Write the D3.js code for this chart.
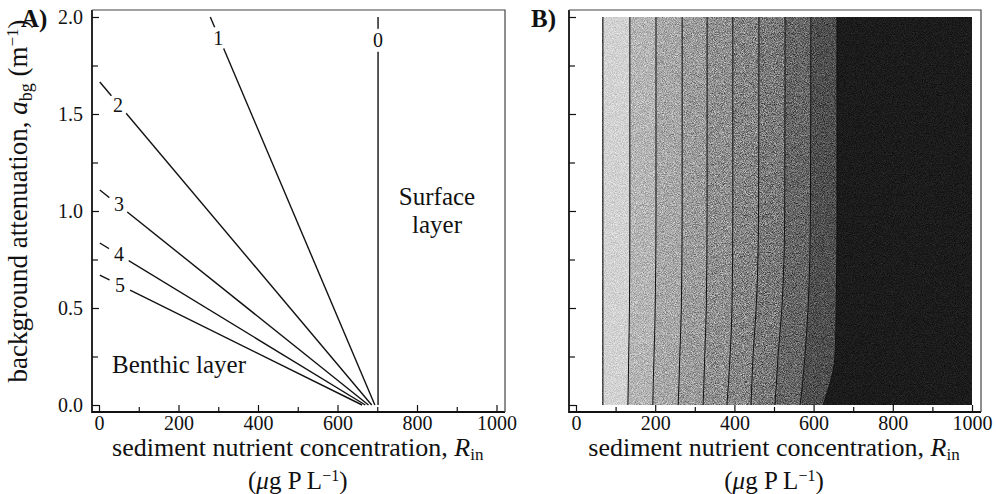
<!DOCTYPE html>
<meta charset="utf-8">
<style>
body { margin: 0; background: #fff; }
svg text { font-family: "Liberation Serif", "Times New Roman", serif; fill: #111; }
.frame { fill: none; }
.tick line { stroke: #111; stroke-width: 1.2px; }
.contA { fill: none; stroke: #111; stroke-width: 1.4px; }
.contB { fill: none; stroke: #111; stroke-width: 1px; }
</style>
<body>
<script src="https://cdn.jsdelivr.net/npm/d3@7"></script>
<script>

// ---- panel A: contour lines (R_in, a_bg) end points
var contourNames = ["0", "1", "2", "3", "4", "5"];
var contourR   = [[702, 702], [694, 280], [686, 2], [678, 2], [670, 2], [662, 2]];
var contourAbg = [[0, 2.0], [0, 2.0], [0, 1.665], [0, 1.108], [0, 0.835], [0, 0.67]];
var labelR   = [702, 300, 48, 50, 50, 53];
var labelAbg = [1.88, 1.89, 1.546, 1.035, 0.775, 0.62];

// ---- panel B: band edges (R_in) at a few a_bg levels
var edgeAbg = [0, 0.11, 0.25, 0.5, 1.0, 2.0];
var bandEdges = [
  [68, 68, 68, 68, 68, 68],
  [131, 132, 133, 135, 136, 136],
  [194, 195, 197, 200, 202, 202],
  [258, 260, 262, 266, 268, 268],
  [321, 323, 325, 329, 331, 331],
  [381, 385, 389, 394, 396, 396],
  [442, 444, 447, 455, 461, 462],
  [502, 506, 510, 520, 527, 528],
  [566, 572, 578, 586, 592, 593],
  [624, 641, 654, 657, 659, 659],
  [1000, 1000, 1000, 1000, 1000, 1000]
];
var bandGray = ["#d2d2d2", "#b5b5b5", "#a7a7a7", "#9b9b9b", "#8f8f8f",
                "#848484", "#787878", "#656565", "#4e4e4e", "#1b1b1b"];

// ---- axes
var xMajor = [0, 200, 400, 600, 800, 1000];
var xMinor = [100, 300, 500, 700, 900];
var yMajor = [0, 0.5, 1.0, 1.5, 2.0];
var yMinor = [0.25, 0.75, 1.25, 1.75];

var svg = d3.select("body").append("svg")
    .attr("width", 996)
    .attr("height", 494);

var xA = d3.scaleLinear().domain([0, 1000]).range([99, 496.5]);
var xB = d3.scaleLinear().domain([0, 1000]).range([576, 972]);
var y  = d3.scaleLinear().domain([0, 2]).range([405, 17]);

// film grain for the shaded map
var defs = svg.append("defs");
var grain = defs.append("filter").attr("id", "grain")
    .attr("color-interpolation-filters", "sRGB")
    .attr("x", 0).attr("y", 0).attr("width", 1).attr("height", 1);
grain.append("feTurbulence").attr("type", "fractalNoise")
    .attr("baseFrequency", 1.1).attr("numOctaves", 2).attr("seed", 7);
grain.append("feColorMatrix").attr("type", "matrix")
    .attr("values", "1.3 0 0 0 -0.15  1.3 0 0 0 -0.15  1.3 0 0 0 -0.15  0 0 0 0 1");

// ===== panel B heat map (drawn first so the frame sits on top)
var heat = svg.append("g").style("isolation", "isolate");

var bandArea = d3.area()
    .curve(d3.curveMonotoneY)
    .y(function(d) { return y(d.abg); })
    .x0(function(d) { return xB(d.lo); })
    .x1(function(d) { return xB(d.hi); });

bandGray.forEach(function(col, i) {
  var pts = edgeAbg.map(function(a, k) {
    return { abg: a, lo: bandEdges[i][k], hi: bandEdges[i + 1][k] };
  });
  heat.append("path").datum(pts).attr("d", bandArea).attr("fill", col);
});

heat.append("rect")
    .attr("x", xB(bandEdges[0][0])).attr("y", y(2))
    .attr("width", xB(1000) - xB(bandEdges[0][0]))
    .attr("height", y(0) - y(2))
    .attr("filter", "url(#grain)")
    .style("mix-blend-mode", "overlay")
    .attr("opacity", 0.8);

var edgeLine = d3.line()
    .curve(d3.curveMonotoneY)
    .y(function(d) { return y(d.abg); })
    .x(function(d) { return xB(d.r); });

bandEdges.slice(0, 10).forEach(function(e) {
  var pts = edgeAbg.map(function(a, k) { return { abg: a, r: e[k] }; });
  heat.append("path").datum(pts).attr("class", "contB").attr("d", edgeLine);
});

// ===== panel A contour lines
var gA = svg.append("g");
var lineA = d3.line()
    .x(function(d) { return xA(d[0]); })
    .y(function(d) { return y(d[1]); });

contourNames.forEach(function(name, i) {
  var pts = [[contourR[i][0], contourAbg[i][0]], [contourR[i][1], contourAbg[i][1]]];
  gA.append("path").datum(pts).attr("class", "contA").attr("d", lineA);
});

contourNames.forEach(function(name, i) {
  gA.append("circle")
      .attr("cx", xA(labelR[i])).attr("cy", y(labelAbg[i]))
      .attr("r", 11.5).attr("fill", "#fff");
  gA.append("text")
      .attr("x", xA(labelR[i])).attr("y", y(labelAbg[i]))
      .attr("dy", "0.34em")
      .attr("text-anchor", "middle")
      .attr("font-size", 20)
      .text(name);
});

gA.append("text").attr("x", 112).attr("y", 373).attr("font-size", 25).text("Benthic layer");
gA.append("text").attr("x", 437).attr("y", 205).attr("font-size", 25)
    .attr("text-anchor", "middle").text("Surface");
gA.append("text").attr("x", 437).attr("y", 233).attr("font-size", 25)
    .attr("text-anchor", "middle").text("layer");

// ===== frames, axes, labels
function panel(x, left, right, showY, tag, tagX) {
  var g = svg.append("g");

  g.append("g").attr("transform", "translate(0,412)")
      .call(d3.axisBottom(x).tickValues(xMajor).tickSizeInner(-7).tickSizeOuter(0)
            .tickPadding(4).tickFormat(d3.format("d")));
  g.append("g").attr("transform", "translate(0,412)")
      .call(d3.axisBottom(x).tickValues(xMinor).tickSizeInner(-5).tickSizeOuter(0)
            .tickFormat(""));
  g.append("g").attr("transform", "translate(" + left + ",0)")
      .call(d3.axisLeft(y).tickValues(yMajor).tickSizeInner(-7).tickSizeOuter(0)
            .tickPadding(9).tickFormat(showY ? d3.format(".1f") : ""));
  g.append("g").attr("transform", "translate(" + left + ",0)")
      .call(d3.axisLeft(y).tickValues(yMinor).tickSizeInner(-6).tickSizeOuter(0)
            .tickFormat(""));
  g.selectAll(".domain").remove();
  g.selectAll(".tick text")
      .attr("font-size", 20)
      .attr("fill", "#111");

  // frame: heavy left/bottom, light top/right
  g.append("path").attr("class", "frame")
      .attr("d", "M" + left + ",10V412H" + right)
      .attr("stroke", "#111").attr("stroke-width", 1.8);
  g.append("path").attr("class", "frame")
      .attr("d", "M" + left + ",10H" + right + "V412")
      .attr("stroke", "#444").attr("stroke-width", 1.2);

  var cx = (x(0) + x(1000)) / 2;
  var t1 = g.append("text").attr("x", cx).attr("y", 456)
      .attr("text-anchor", "middle").attr("font-size", 26);
  t1.append("tspan").text("sediment nutrient concentration, ");
  t1.append("tspan").attr("font-style", "italic").text("R");
  t1.append("tspan").attr("font-size", 17).attr("dy", 4).text("in");

  var t2 = g.append("text").attr("x", cx).attr("y", 489)
      .attr("text-anchor", "middle").attr("font-size", 25);
  t2.append("tspan").text("(");
  t2.append("tspan").attr("font-style", "italic").text("\u03bc");
  t2.append("tspan").text("g P L");
  t2.append("tspan").attr("font-size", 16).attr("dy", -8).text("\u22121");
  t2.append("tspan").attr("dy", 8).text(")");

  g.append("text").attr("x", tagX).attr("y", 27)
      .attr("font-size", 25).attr("font-weight", "bold").text(tag);
}

panel(xA, 92, 505, true, "A)", 21);
panel(xB, 569, 981, false, "B)", 531);

// y label (panel A)
var yl = svg.append("text")
    .attr("transform", "translate(27,201) rotate(-90)")
    .attr("text-anchor", "middle")
    .attr("font-size", 27);
yl.append("tspan").text("background attenuation, ");
yl.append("tspan").attr("font-style", "italic").text("a");
yl.append("tspan").attr("font-size", 18).attr("dy", 5).text("bg");
yl.append("tspan").attr("dy", -5).text(" (m");
yl.append("tspan").attr("font-size", 17).attr("dy", -9).text("\u22121");
yl.append("tspan").attr("dy", 9).text(")");

</script>
</body>
